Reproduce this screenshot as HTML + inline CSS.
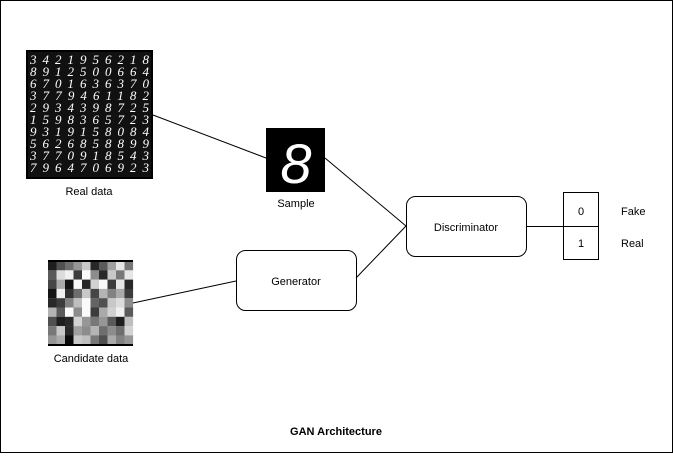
<!DOCTYPE html>
<html><head><style>
body{margin:0;width:673px;height:453px;background:#fff;overflow:hidden;font-family:"Liberation Sans",sans-serif;}
</style></head><body>
<svg width="673" height="453" xmlns="http://www.w3.org/2000/svg" font-family="Liberation Sans, sans-serif">
<rect x="0.5" y="0.5" width="672" height="452" fill="#fff" stroke="#000"/>
<!-- real data -->
<rect x="26" y="50" width="127" height="129" fill="#000"/>
<rect x="28" y="52" width="123" height="125" fill="#111"/>
<g fill="#fff" font-size="13" font-family="Liberation Serif, serif" font-style="italic">
<text x="30" y="64" textLength="119">3421956218</text>
<text x="30" y="76" textLength="119">8912500664</text>
<text x="30" y="88" textLength="119">6701636370</text>
<text x="30" y="100" textLength="119">3779461182</text>
<text x="30" y="112" textLength="119">2934398725</text>
<text x="30" y="124" textLength="119">1598365723</text>
<text x="30" y="136" textLength="119">9319158084</text>
<text x="30" y="148" textLength="119">5626858899</text>
<text x="30" y="160" textLength="119">3770918543</text>
<text x="30" y="172" textLength="119">7964706923</text>
</g>
<text x="89" y="195" font-size="11" text-anchor="middle">Real data</text>
<!-- sample -->
<rect x="266" y="128" width="59" height="64" fill="#000"/>
<text x="296" y="183" font-size="56" fill="#fff" font-style="italic" text-anchor="middle">8</text>
<text x="296" y="207" font-size="11" text-anchor="middle">Sample</text>
<!-- candidate -->
<g id="noise"></g>
<text x="91" y="362" font-size="11" text-anchor="middle">Candidate data</text>
<!-- lines -->
<g stroke="#000" stroke-width="1" fill="none">
<line x1="153" y1="115" x2="266" y2="158"/>
<line x1="325" y1="158" x2="406" y2="226"/>
<line x1="356" y1="278" x2="406" y2="226"/>
<line x1="133" y1="303" x2="236" y2="281"/>
<line x1="526" y1="226.5" x2="598" y2="226.5"/>
<rect x="236.5" y="250.5" width="120" height="60" rx="9"/>
<rect x="406.5" y="196.5" width="120" height="60" rx="9"/>
<rect x="563.5" y="192.5" width="35" height="67"/>
</g>
<text x="296" y="285" font-size="11" text-anchor="middle">Generator</text>
<text x="466" y="231" font-size="11" text-anchor="middle">Discriminator</text>
<text x="581" y="215" font-size="11" text-anchor="middle">0</text>
<text x="581" y="247" font-size="11" text-anchor="middle">1</text>
<text x="621" y="215" font-size="11">Fake</text>
<text x="621" y="247" font-size="11">Real</text>
<text x="336" y="435" font-size="11" font-weight="bold" text-anchor="middle">GAN Architecture</text>
</svg>
<script>
var g=document.getElementById('noise');
var v=[[30,80,110,150,200,40,90,160,230,120],[90,220,240,60,250,140,40,200,120,230],[70,170,20,250,40,210,250,60,230,40],[20,240,50,110,200,70,180,130,170,60],[40,60,130,190,250,100,80,200,220,140],[180,90,250,140,250,60,170,210,240,90],[80,30,40,210,150,120,150,90,30,190],[120,200,40,160,140,180,110,140,110,210],[150,170,10,200,190,120,80,170,130,150]];
var s='';for(var r=0;r<9;r++)for(var c=0;c<10;c++){var k=v[r][c];s+='<rect x="'+(48+c*8.5)+'" y="'+(261+r*9.3)+'" width="8.6" height="9.4" fill="rgb('+k+','+k+','+k+')"/>';}
g.innerHTML=s+'<rect x="48" y="260" width="85" height="2" fill="#000"/><rect x="48" y="344" width="85" height="2" fill="#000"/>';
</script>
</body></html>
